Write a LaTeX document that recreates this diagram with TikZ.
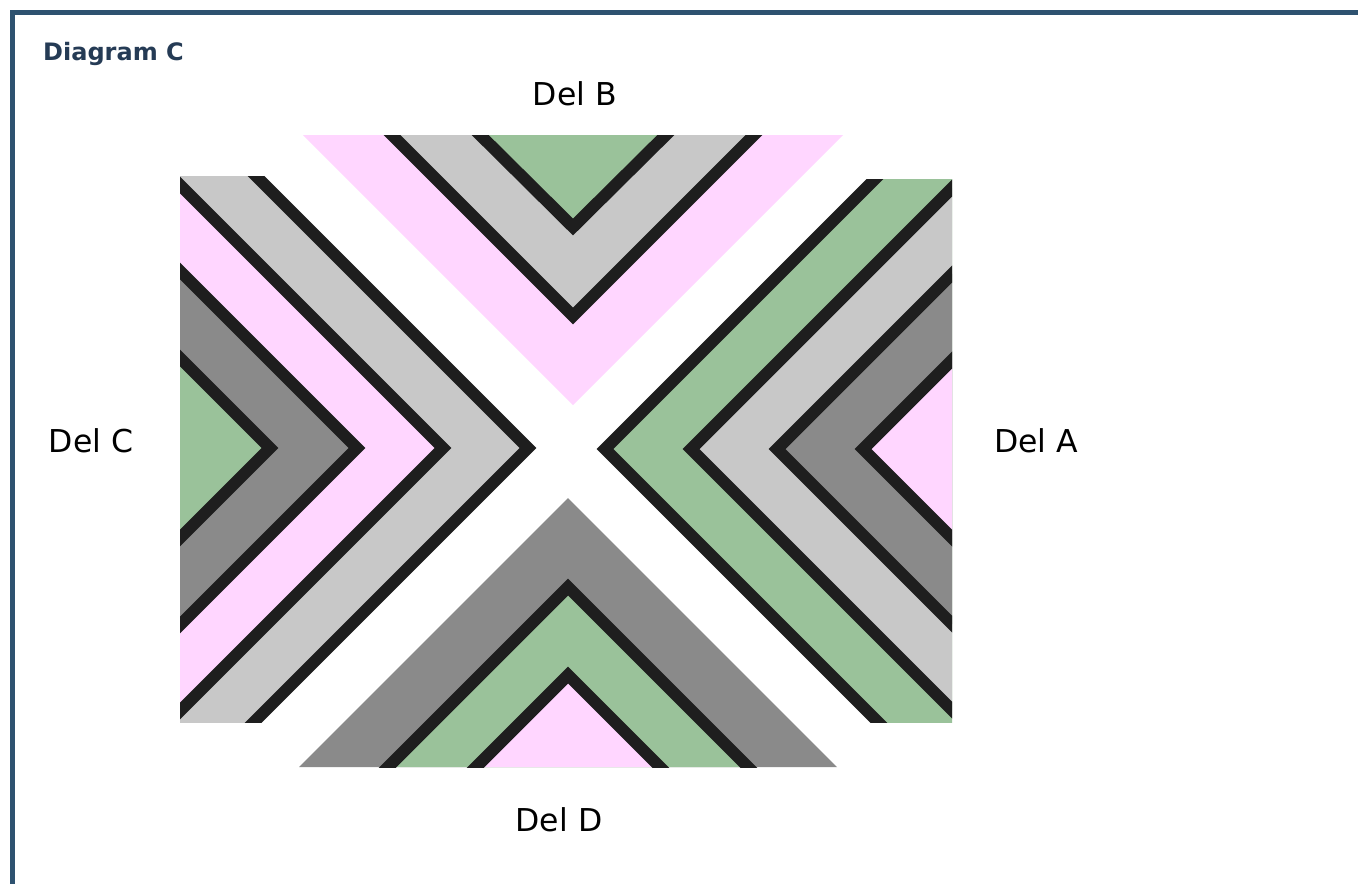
\documentclass[tikz,border=0pt]{standalone}
\usepackage{fontspec}
\setmainfont{DejaVu Sans}
\begin{document}
\begin{tikzpicture}[x=1pt,y=-1pt]
\definecolor{frame}{HTML}{2E5270}
\definecolor{titlec}{HTML}{253B55}
\definecolor{pinkc}{HTML}{FFD6FF}
\definecolor{lgray}{HTML}{C8C8C8}
\definecolor{dgray}{HTML}{8A8A8A}
\definecolor{greenc}{HTML}{9AC29A}
\definecolor{linec}{HTML}{1E1E1E}
\tikzset{
  bandline/.style={draw=linec,line width=12pt,line join=miter},
  lbl/.style={font=\fontsize{31.5}{38}\selectfont,anchor=base,inner sep=0pt,text=black},
}
\useasboundingbox (0,0) rectangle (1358,884);
\fill[white] (0,0) rectangle (1358,884);
% frame
\fill[frame] (10,10) rectangle (1358,15);
\fill[frame] (10,10) rectangle (15,884);
\node[anchor=base west,inner sep=0pt,text=titlec,font=\bfseries\fontsize{24}{29}\selectfont] (title) at (43,60) {Diagram C};

% Part B (top)
\begin{scope}
\clip (250,135) rectangle (900,420);
\fill[pinkc] (303,135) -- (843,135) -- (573,405) -- cycle;
\fill[lgray] (392,135) -- (754,135) -- (573,316) -- cycle;
\fill[greenc] (480,135) -- (666,135) -- (573,227) -- cycle;
\draw[bandline] (373,116) -- (573,316) -- (773,116);
\draw[bandline] (461,116) -- (573,227) -- (685,116);
\end{scope}

% Part D (bottom)
\begin{scope}
\clip (250,480) rectangle (900,767);
\fill[dgray] (299,767) -- (837,767) -- (568,498) -- cycle;
\fill[greenc] (388,767) -- (748,767) -- (568,587) -- cycle;
\fill[pinkc] (476,767) -- (660,767) -- (568,675) -- cycle;
\draw[bandline] (368,787) -- (568,587) -- (768,787);
\draw[bandline] (456,787) -- (568,675) -- (680,787);
\end{scope}

% Part C (left)
\begin{scope}
\clip (180,176) rectangle (600,722);
\fill[lgray] (528,448) -- (-172,-252) -- (-172,1148) -- cycle;
\fill[pinkc] (443,448) -- (-257,-252) -- (-257,1148) -- cycle;
\fill[dgray] (357,448) -- (-343,-252) -- (-343,1148) -- cycle;
\fill[greenc] (270,448) -- (-430,-252) -- (-430,1148) -- cycle;
\draw[bandline] (-172,-252) -- (528,448) -- (-172,1148);
\draw[bandline] (-257,-252) -- (443,448) -- (-257,1148);
\draw[bandline] (-343,-252) -- (357,448) -- (-343,1148);
\draw[bandline] (-430,-252) -- (270,448) -- (-430,1148);
\end{scope}

% Part A (right)
\begin{scope}
\clip (560,179) rectangle (952,722);
\fill[greenc] (605,449) -- (1305,-251) -- (1305,1149) -- cycle;
\fill[lgray] (691,449) -- (1391,-251) -- (1391,1149) -- cycle;
\fill[dgray] (777,449) -- (1477,-251) -- (1477,1149) -- cycle;
\fill[pinkc] (863,449) -- (1563,-251) -- (1563,1149) -- cycle;
\draw[bandline] (1305,-251) -- (605,449) -- (1305,1149);
\draw[bandline] (1391,-251) -- (691,449) -- (1391,1149);
\draw[bandline] (1477,-251) -- (777,449) -- (1477,1149);
\draw[bandline] (1563,-251) -- (863,449) -- (1563,1149);
\end{scope}

% labels
\node[lbl] (labB) at (575,105) {Del B};
\node[lbl] (labC) at (91,452) {Del C};
\node[lbl] (labA) at (1036,452) {Del A};
\node[lbl] (labD) at (559,831) {Del D};
\end{tikzpicture}
\end{document}
